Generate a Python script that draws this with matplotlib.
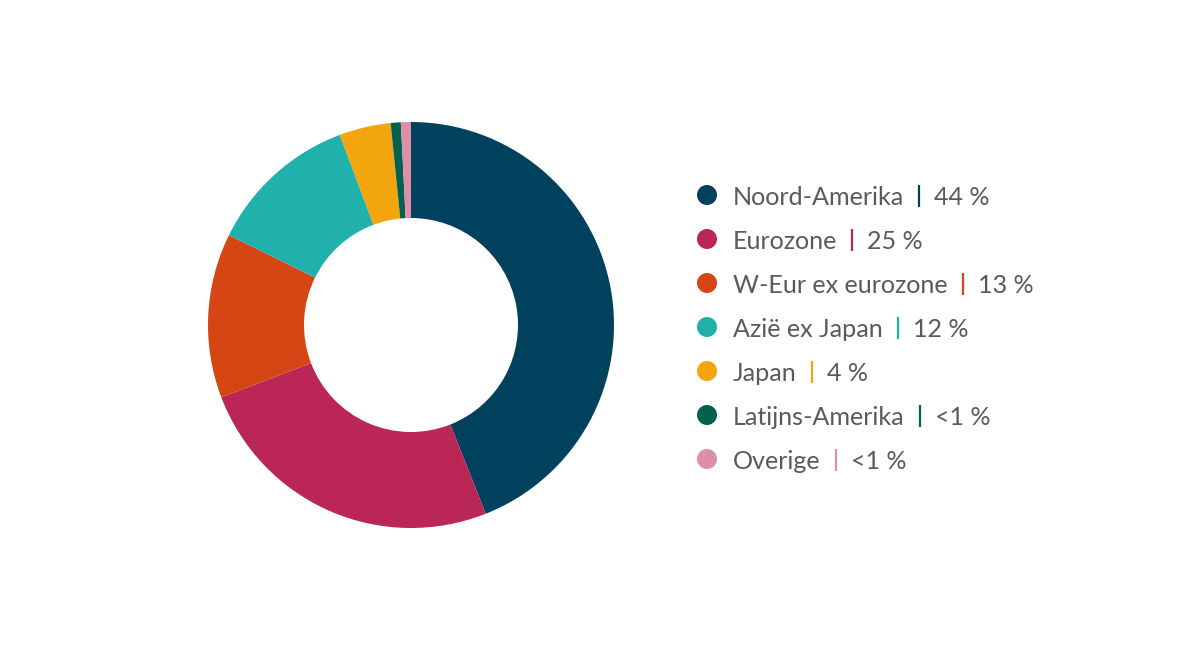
import matplotlib
matplotlib.use("Agg")
import matplotlib.pyplot as plt
from matplotlib.lines import Line2D
from matplotlib.patches import Ellipse

categories = ["Noord-Amerika", "Eurozone", "W-Eur ex eurozone", "Azië ex Japan",
              "Japan", "Latijns-Amerika", "Overige"]
values = [44.0, 25.2, 13.1, 12.0, 4.1, 0.8, 0.8]
labels = ["44 %", "25 %", "13 %", "12 %", "4 %", "<1 %", "<1 %"]
colors = ["#00415E", "#BA2757", "#D64614", "#20B1AC", "#F2A50C", "#04604F", "#DE8EA8"]

W, H = 1201, 651
fig = plt.figure(figsize=(W / 100, H / 100), dpi=100)
fig.patch.set_facecolor("white")

# donut axes: center (411,325), radius 203
cx, cy, r = 411, 325, 203
ax = fig.add_axes([(cx - r) / W, (H - cy - r) / H, 2 * r / W, 2 * r / H])
ax.pie(values, colors=colors, startangle=90, counterclock=False,
       radius=1.0, wedgeprops=dict(width=1 - 107 / 203, linewidth=0))
ax.set_xlim(-1, 1)
ax.set_ylim(-1, 1)
ax.set_aspect("equal")
ax.axis("off")

# legend
fam = ["Lato", "DejaVu Sans"]
font = dict(family=fam, weight="normal", size=18.1, color="#5a5a5a")
y0 = 195
dy = 44
fig.canvas.draw()
renderer = fig.canvas.get_renderer()
for i, (cat, lab, col) in enumerate(zip(categories, labels, colors)):
    yc = y0 + i * dy           # row centre, pixels from top
    base = yc + 10             # text baseline, pixels from top
    fig.add_artist(Ellipse((707 / W, (H - yc) / H), 20 / W, 20 / H,
                           transform=fig.transFigure, facecolor=col, edgecolor="none"))
    t = fig.text(733 / W, (H - base) / H, cat, va="baseline", ha="left", **font)
    x_end = t.get_window_extent(renderer).x1
    xb = x_end + 15
    fig.add_artist(Line2D([xb / W, xb / W], [(H - base - 2) / H, (H - base + 20) / H],
                          transform=fig.transFigure, color=col, linewidth=1.6,
                          solid_capstyle="butt"))
    fig.text((xb + 15) / W, (H - base) / H, lab, va="baseline", ha="left", **font)

fig.savefig("out.png", dpi=100, facecolor="white")
